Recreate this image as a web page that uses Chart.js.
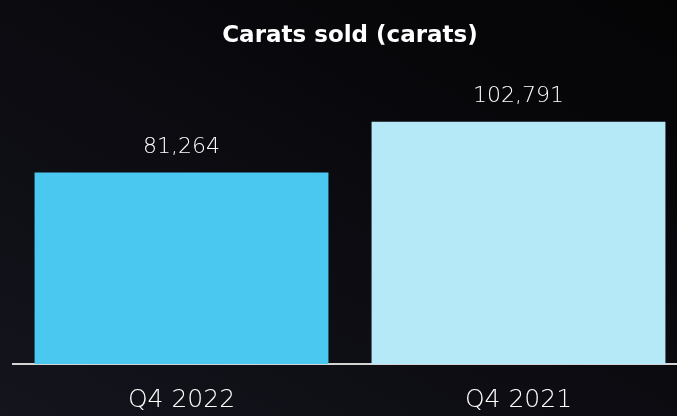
<!DOCTYPE html>
<html>
<head>
<meta charset="utf-8">
<script src="https://cdn.jsdelivr.net/npm/chart.js@4"></script>
<style>
  html, body { margin: 0; padding: 0; overflow: hidden; }
  body {
    width: 677px;
    height: 416px;
    background: linear-gradient(30deg, #14151d 0%, #0a0a0f 55%, #040405 100%);
  }
  #wrap { width: 690px; height: 416px; overflow: hidden; }
</style>
</head>
<body>
<div id="wrap"><canvas id="carats" width="690" height="432"></canvas></div>
<script>
const categories = ["Q4 2022", "Q4 2021"];
const caratsSold = [81264, 102791];
const barColors = ["#4bc8ef", "#b5e9f7"];

function formatAmount(amount) {
  return new Intl.NumberFormat("en-US", { maximumFractionDigits: 0 }).format(amount);
}

// draws the value above each bar
const valueLabels = {
  id: "valueLabels",
  afterDatasetsDraw(chart) {
    const ctx = chart.ctx;
    const meta = chart.getDatasetMeta(0);
    ctx.save();
    ctx.fillStyle = "#ffffff";
    ctx.font = "200 22px 'DejaVu Sans', sans-serif";
    ctx.textAlign = "center";
    ctx.textBaseline = "middle";
    meta.data.forEach((bar, i) => {
      ctx.fillText(formatAmount(caratsSold[i]), bar.x, bar.y - 25);
    });
    ctx.restore();
  },
};

Chart.defaults.font.family = "'DejaVu Sans', sans-serif";
Chart.defaults.color = "#ffffff";

new Chart(document.getElementById("carats").getContext("2d"), {
  type: "bar",
  data: {
    labels: categories,
    datasets: [
      {
        label: "Carats sold",
        data: caratsSold,
        backgroundColor: barColors,
        borderWidth: 0,
        barPercentage: 0.872,
        categoryPercentage: 1.0,
      },
    ],
  },
  options: {
    responsive: false,
    animation: false,
    layout: { padding: { left: 13, right: 3, bottom: 4 } },
    plugins: {
      legend: { display: false },
      tooltip: { enabled: false },
      title: {
        display: true,
        text: "Carats sold (carats)",
        color: "#ffffff",
        font: { size: 23, weight: "bold" },
        padding: { top: 22, bottom: 21 },
      },
    },
    scales: {
      x: {
        grid: { display: false },
        border: { display: true, color: "#d4d4d4", width: 2 },
        ticks: { color: "#ffffff", font: { size: 25, weight: 200 }, padding: 13 },
      },
      y: {
        display: false,
        min: 0,
        max: 124500,
      },
    },
  },
  plugins: [valueLabels],
});
</script>
</body>
</html>
